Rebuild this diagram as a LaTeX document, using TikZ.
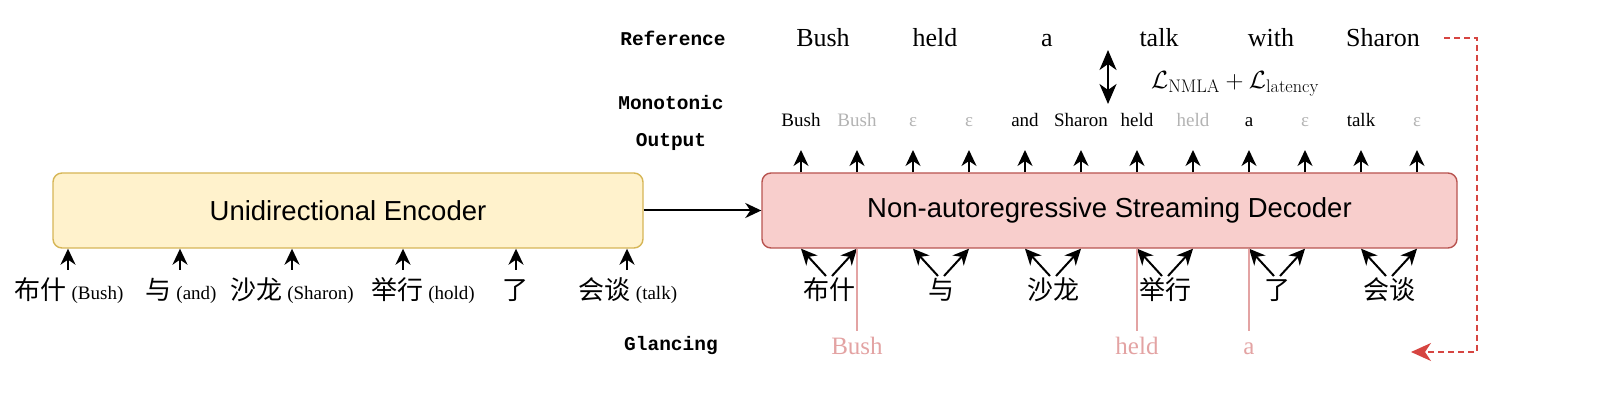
\documentclass[tikz,border=0pt]{standalone}
\usepackage{fontspec}
\usetikzlibrary{arrows.meta}
\newfontfamily\tms{Liberation Serif}
\newfontfamily\hel{Liberation Sans}
\newfontfamily\cjk{Noto Sans CJK SC}
\newfontfamily\cmono{Liberation Mono}
\definecolor{encfill}{HTML}{FFF2CC}
\definecolor{encdraw}{HTML}{D6B656}
\definecolor{decfill}{HTML}{F8CECC}
\definecolor{decdraw}{HTML}{B85450}
\definecolor{glance}{HTML}{E3A3A3}
\definecolor{dashred}{HTML}{D64541}
\definecolor{ghost}{HTML}{B3B3B3}
\begin{document}
\begin{tikzpicture}[x=1pt,y=-1pt,
  arr/.style={-{Stealth[length=16pt,width=15pt,inset=5pt]}, line width=2pt},
  bigbox/.style={rounded corners=9pt, line width=1.4pt, minimum height=75pt, inner sep=0pt,
     font=\hel\fontsize{27.5}{33}\selectfont},
  monolab/.style={font=\cmono\bfseries\fontsize{19.5}{23}\selectfont, inner sep=0pt},
  refword/.style={font=\tms\fontsize{26}{30}\selectfont, inner sep=0pt},
  outword/.style={font=\tms\fontsize{19}{23}\selectfont, inner sep=0pt},
  ghostword/.style={outword, text=ghost},
  zh/.style={font=\cjk\fontsize{26}{31}\selectfont, inner sep=0pt},
  glword/.style={font=\tms\fontsize{25}{30}\selectfont, text=glance, inner sep=0pt},
  glline/.style={draw=glance, line width=1.4pt},
]
\useasboundingbox (0,0) rectangle (1612,403);

% boxes
\node[bigbox, draw=encdraw, fill=encfill, minimum width=590pt] (enc) at (348,210.5) {Unidirectional Encoder};
\node[bigbox, draw=decdraw, fill=decfill, minimum width=695pt] (dec) at (1109.5,210.5) {Non-autoregressive Streaming Decoder};
\draw[arr] (enc.east) -- (dec.west);

% left labels
\node[monolab] (lref) at (673,38) {Reference};
\node[monolab] (lmono) at (671,103) {Monotonic};
\node[monolab] (lout) at (671,142) {Output};
\node[monolab] (lgl) at (671,346) {Glancing};

% reference words
\foreach \w [count=\i from 0] in {Bush,held,a,talk,with,Sharon}{
  \node[refword, anchor=base] (ref\i) at (823+112*\i,47) {\w};
}

% loss double arrow and label
\coordinate (dtop) at (1108,50);
\coordinate (dbot) at (1108,104);
\draw[{Stealth[length=20pt,width=17pt,inset=6pt]}-{Stealth[length=20pt,width=17pt,inset=6pt]}, line width=2.4pt] (dtop) -- (dbot);
\node[font=\fontsize{26}{30}\selectfont, inner sep=0pt] (loss) at (1235,84) {$\mathcal{L}_{\mathrm{NMLA}}+\mathcal{L}_{\mathrm{latency}}$};

% monotonic output words and arrows
\foreach \w/\s [count=\i from 0] in {Bush/outword,Bush/ghostword,ε/ghostword,ε/ghostword,and/outword,Sharon/outword,held/outword,held/ghostword,a/outword,ε/ghostword,talk/outword,ε/ghostword}{
  \node[\s, anchor=base] (ow\i) at (801+56*\i,127) {\w};
  \coordinate (ot\i) at (801+56*\i,150);
  \draw[arr] (dec.north -| ot\i) -- (ot\i);
}

% encoder inputs
\foreach \ax/\lx/\zw/\en [count=\i from 0] in {68/69/布什/(Bush),180/181/与/(and),292/292/沙龙/(Sharon),403/423/举行/(hold),516/515/了/,627/628/会谈/(talk)}{
  \node[inner sep=0pt, anchor=base] (ein\i) at (\lx,300) {{\cjk\fontsize{26}{31}\selectfont \zw}\ifx\en\empty\else\hspace{5pt}{\tms\fontsize{19}{23}\selectfont \en}\fi};
  \coordinate (ea\i) at (\ax,270);
  \draw[arr] (ea\i) -- (enc.south -| ea\i);
}

% decoder inputs
\foreach \zw [count=\i from 0] in {布什,与,沙龙,举行,了,会谈}{
  \node[zh, anchor=base] (din\i) at (829+112*\i,300) {\zw};
  \coordinate (dl\i) at (829+112*\i-3,276);
  \coordinate (dr\i) at (829+112*\i+3,276);
  \draw[arr] (dl\i) -- (dec.south -| ot\the\numexpr2*\i\relax);
  \draw[arr] (dr\i) -- (dec.south -| ot\the\numexpr2*\i+1\relax);
}

% glancing words and lines
\node[glword, anchor=base] (g0) at (857,355) {Bush};
\node[glword, anchor=base] (g1) at (1137,355) {held};
\node[glword, anchor=base] (g2) at (1249,355) {a};
\draw[glline] (dec.south -| g0) -- (857,331);
\draw[glline] (dec.south -| g1) -- (1137,331);
\draw[glline] (dec.south -| g2) -- (1249,331);

% dashed feedback
\coordinate (fb0) at (1444,38);
\coordinate (fb1) at (1477,38);
\coordinate (fb2) at (1477,352);
\coordinate (fb3) at (1411,352);
\draw[dashred, line width=1.6pt, dash pattern=on 6pt off 4pt, -{Stealth[length=20pt,width=18pt,inset=6pt]}] (fb0) -- (fb1) -- (fb2) -- (fb3);
\end{tikzpicture}
\end{document}
